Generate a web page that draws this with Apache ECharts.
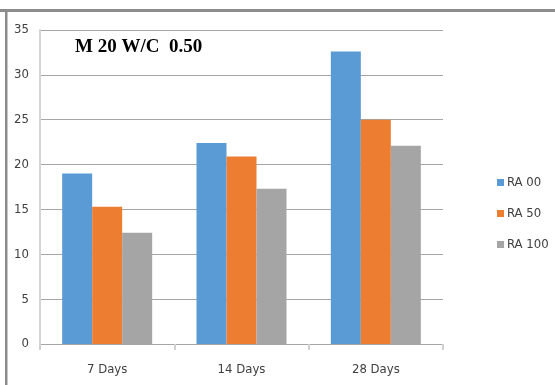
<!DOCTYPE html>
<html>
<head>
<meta charset="utf-8">
<script src="https://cdn.jsdelivr.net/npm/echarts@6/dist/echarts.min.js"></script>
<style>
  html, body { margin: 0; padding: 0; background: #fff; }
  #chart { width: 555px; height: 385px; }
</style>
</head>
<body>
<div id="chart"></div>
<script>
// Compressive strength by curing age, M 20 mix, W/C 0.50
const categories = ['7 Days', '14 Days', '28 Days'];
const seriesNames = ['RA 00', 'RA 50', 'RA 100'];
const ra00 = [19.0, 22.4, 32.6];
const ra50 = [15.3, 20.9, 25.0];
const ra100 = [12.4, 17.3, 22.1];
const colors = ['#5b9bd5', '#ed7d31', '#a5a5a5'];

const labelFont = '"Liberation Sans Narrow", "DejaVu Sans Condensed", "Liberation Sans", sans-serif';

const chart = echarts.init(document.getElementById('chart'), null, { renderer: 'canvas' });

const values = [ra00, ra50, ra100];

chart.setOption({
  animation: false,
  backgroundColor: '#ffffff',
  grid: { left: 40, right: 112, top: 30, bottom: 41, containLabel: false },
  title: {
    text: 'M 20 W/C  0.50',
    left: 75,
    top: 38,
    padding: 0,
    textStyle: {
      fontFamily: '"Liberation Serif", "DejaVu Serif", serif',
      fontWeight: 'bold',
      fontSize: 19,
      color: '#000000'
    }
  },
  legend: {
    orient: 'vertical',
    left: 492,
    top: 171,
    itemWidth: 7,
    itemHeight: 7,
    itemGap: 18,
    icon: 'rect',
    data: seriesNames,
    textStyle: { fontFamily: labelFont, fontSize: 13, color: '#404040', padding: [0, 0, 0, -2] }
  },
  xAxis: {
    type: 'category',
    data: categories,
    axisLine: { show: true, lineStyle: { color: '#a6a6a6', width: 1 } },
    axisTick: { show: true, length: 6, alignWithLabel: false, lineStyle: { color: '#d0d0d0', width: 2 } },
    axisLabel: { margin: 19, fontFamily: labelFont, fontSize: 13, color: '#404040' },
    splitLine: { show: false }
  },
  yAxis: {
    type: 'value',
    min: 0,
    max: 35,
    interval: 5,
    axisLine: { show: true, lineStyle: { color: '#d4d4d4', width: 2 } },
    axisTick: { show: false },
    axisLabel: { margin: 11, fontFamily: labelFont, fontSize: 13, color: '#404040' },
    splitLine: { show: true, lineStyle: { color: '#a6a6a6', width: 1 } }
  },
  series: seriesNames.map((name, i) => ({
    name: name,
    type: 'bar',
    data: values[i],
    barGap: '0%',
    barCategoryGap: '33%',
    itemStyle: { color: colors[i] }
  })),
  graphic: [
    // outer frame: top and left edges
    { type: 'rect', shape: { x: 0, y: 9, width: 555, height: 3 }, style: { fill: '#8c8c8c' }, silent: true },
    { type: 'rect', shape: { x: 5, y: 9, width: 2.5, height: 376 }, style: { fill: '#8c8c8c' }, silent: true }
  ]
});
</script>
</body>
</html>
